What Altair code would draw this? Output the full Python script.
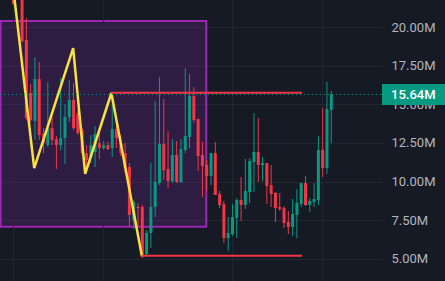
import altair as alt
import pandas as pd

# OHLC values (millions), one per candle, left to right
opens = [22.6, 22.2, 22.3, 19.16, 15.73, 13.92, 16.63, 13.07, 12.36, 13.46,
         12.75, 12.36, 12.82, 14.17, 15.28, 14.43, 13.33, 11.84, 11.52, 11.91,
         12.49, 12.17, 12.36, 12.17, 13.40, 12.49, 11.84, 10.94, 7.51, 8.35,
         8.35, 5.31, 6.67, 8.35, 9.90, 12.43, 10.81, 10.03, 11.72, 9.97,
         12.04, 12.88, 15.53, 14.05, 11.72, 11.07, 10.36, 11.84, 9.19, 8.54,
         6.34, 6.60, 7.64, 8.80, 8.48, 9.32, 11.26, 11.91, 11.07, 11.20,
         9.77, 9.26, 8.35, 8.28, 7.38, 7.06, 7.83, 8.54, 9.90, 8.48,
         8.67, 8.80, 12.04, 10.87, 14.63]
highs = [23.0, 22.8, 22.6, 20.58, 16.31, 18.06, 17.73, 13.46, 16.44, 14.17,
         12.94, 16.70, 15.02, 16.57, 16.38, 14.63, 13.46, 12.36, 13.01, 13.59,
         13.46, 12.62, 12.56, 15.60, 13.79, 13.01, 12.49, 11.20, 8.80, 8.61,
         8.48, 6.86, 11.20, 15.21, 16.76, 15.34, 13.27, 12.75, 12.62, 12.75,
         17.35, 16.96, 16.12, 14.05, 12.56, 11.39, 11.84, 12.56, 9.39, 8.74,
         7.70, 8.54, 8.93, 10.29, 11.46, 11.52, 14.43, 14.11, 11.59, 11.20,
         11.07, 9.32, 9.26, 8.41, 8.09, 8.87, 9.51, 9.90, 10.36, 8.93,
         9.90, 12.94, 14.76, 16.44, 15.86]
lows = [21.45, 21.9, 19.0, 13.98, 13.85, 12.69, 12.69, 11.84, 12.23, 12.36,
        10.81, 12.04, 11.13, 13.85, 13.33, 13.01, 11.72, 10.94, 11.20, 10.94,
        11.46, 12.04, 12.04, 11.59, 12.17, 11.65, 10.55, 7.12, 6.93, 7.06,
        5.05, 5.18, 5.70, 7.70, 9.77, 10.10, 9.58, 9.90, 9.90, 9.90,
        11.84, 12.17, 13.79, 10.68, 9.00, 9.39, 9.77, 9.13, 8.28, 6.02,
        5.50, 6.47, 6.34, 7.44, 8.22, 8.61, 9.32, 9.97, 10.03, 8.54,
        8.35, 7.38, 8.09, 6.99, 6.60, 6.47, 6.34, 8.35, 8.41, 8.03,
        8.35, 8.48, 10.29, 10.49, 12.49]
closes = [21.49, 22.5, 19.09, 14.11, 13.98, 16.63, 13.01, 12.49, 13.46, 12.69,
          12.36, 12.82, 14.17, 15.28, 13.46, 13.14, 11.84, 11.39, 12.36, 13.07,
          12.17, 12.36, 12.10, 13.40, 12.82, 11.84, 10.87, 7.83, 8.67, 8.28,
          5.11, 6.67, 8.35, 9.97, 12.43, 10.74, 10.03, 11.72, 9.97, 12.10,
          12.94, 15.53, 13.98, 11.65, 11.00, 10.36, 11.84, 9.13, 8.48, 6.34,
          6.67, 7.70, 8.80, 8.48, 9.39, 11.33, 11.91, 11.07, 11.20, 9.71,
          9.19, 8.28, 8.22, 7.31, 7.06, 7.90, 8.61, 9.90, 8.48, 8.74,
          8.87, 12.04, 10.87, 14.69, 15.64]

# Yellow zigzag (candle index, value)
zig_i = [-0.5, 4.83, 13.9, 16.7, 22.8, 29.9]
zig_v = [23.6, 10.87, 18.64, 10.49, 15.73, 5.18]

# Purple zone
zone_i = [-3.0, 44.9]
zone_v = [7.07, 20.39]

# Red horizontal levels: (start index, end index, value)
lvl_start = [22.7, 29.8]
lvl_end = [67.2, 67.2]
lvl_value = [15.75, 5.2]

# Vertical time gridlines (candle index)
vgrid = [0, 21, 51, 72]

last_price = 15.64
y_ticks = [5.0, 7.5, 10.0, 12.5, 15.0, 17.5, 20.0]

X_DOMAIN = [-1.97, 84.65]
Y_DOMAIN = [3.56, 21.75]
UP = "#089981"
DOWN = "#f23645"
BG = "#161a25"
GRID = "#232733"

candles = pd.DataFrame({
    "i": list(range(len(opens))),
    "open": opens, "high": highs, "low": lows, "close": closes,
})
candles["dir"] = ["up" if c >= o else "down" for o, c in zip(opens, closes)]

xs = alt.Scale(domain=X_DOMAIN, nice=False, zero=False)
ys = alt.Scale(domain=Y_DOMAIN, nice=False, zero=False)
color = alt.Color("dir:N", scale=alt.Scale(domain=["up", "down"], range=[UP, DOWN]), legend=None)

base_y_axis = alt.Axis(
    orient="right", values=y_ticks, labelExpr="format(datum.value, '.2f') + 'M'",
    tickSize=0, domain=False, labelPadding=9, labelColor="#b2b5be", labelFont="Roboto",
    labelFontSize=13, gridColor=GRID, gridWidth=1, title=None,
)

vg = alt.Chart(pd.DataFrame({"i": vgrid})).mark_rule(color=GRID, strokeWidth=1).encode(
    x=alt.X("i:Q", scale=xs, axis=None),
    y=alt.Y("v:Q", scale=ys, axis=base_y_axis),
).transform_calculate(v="3.0")
vg = alt.Chart(pd.DataFrame({"i": vgrid})).mark_rule(color=GRID, strokeWidth=1).encode(
    x=alt.X("i:Q", scale=xs, axis=None),
)

zone = alt.Chart(pd.DataFrame({"i0": [zone_i[0]], "i1": [zone_i[1]],
                               "v0": [zone_v[0]], "v1": [zone_v[1]]})).mark_rect(
    fill="#9427c0", fillOpacity=0.2, stroke="#9c27b0", strokeWidth=2, clip=True
).encode(
    x=alt.X("i0:Q", scale=xs, axis=None), x2="i1:Q",
    y=alt.Y("v0:Q", scale=ys, axis=base_y_axis), y2="v1:Q",
)

wicks = alt.Chart(candles).mark_rule(strokeWidth=1, clip=True).encode(
    x=alt.X("i:Q", scale=xs, axis=None),
    y=alt.Y("low:Q", scale=ys), y2="high:Q",
    color=color,
)
bodies = alt.Chart(candles).mark_bar(size=3, clip=True, minBandSize=1).encode(
    x=alt.X("i:Q", scale=xs, axis=None),
    y=alt.Y("open:Q", scale=ys), y2="close:Q",
    color=color,
)

zig = alt.Chart(pd.DataFrame({"i": zig_i, "v": zig_v, "o": list(range(len(zig_i)))})).mark_line(
    color="#f7e33b", strokeWidth=2.5, clip=True
).encode(
    x=alt.X("i:Q", scale=xs, axis=None), y=alt.Y("v:Q", scale=ys), order="o:Q",
)

levels = alt.Chart(pd.DataFrame({"a": lvl_start, "b": lvl_end, "v": lvl_value})).mark_rule(
    color=DOWN, strokeWidth=2, clip=True
).encode(
    x=alt.X("a:Q", scale=xs, axis=None), x2="b:Q", y=alt.Y("v:Q", scale=ys),
)

price_df = pd.DataFrame({"v": [last_price], "t": [f"{last_price:.2f}M"]})
price_line = alt.Chart(price_df).mark_rule(color=UP, strokeWidth=1, strokeDash=[1, 3]).encode(
    y=alt.Y("v:Q", scale=ys), x=alt.value(0), x2=alt.value(382),
)
price_box = alt.Chart(price_df).mark_rule(color=UP, strokeWidth=21, strokeCap="butt").encode(
    y=alt.Y("v:Q", scale=ys), x=alt.value(382), x2=alt.value(445),
)
price_text = alt.Chart(price_df).mark_text(
    color="white", font="Roboto", fontSize=13, fontWeight=500, align="left", baseline="middle", dy=1
).encode(
    y=alt.Y("v:Q", scale=ys), x=alt.value(391), text="t:N",
)

chart = alt.layer(
    zone, vg, wicks, bodies, zig, levels, price_line, price_box, price_text
).properties(
    width=382, height=281, background=BG,
    padding={"left": 0, "top": 0, "right": 63, "bottom": 0},
    autosize=alt.AutoSizeParams(type="none"),
).configure_view(stroke=None).configure_axis(zindex=0)

chart.save("out.html", embed_options={"renderer": "svg", "actions": False})
